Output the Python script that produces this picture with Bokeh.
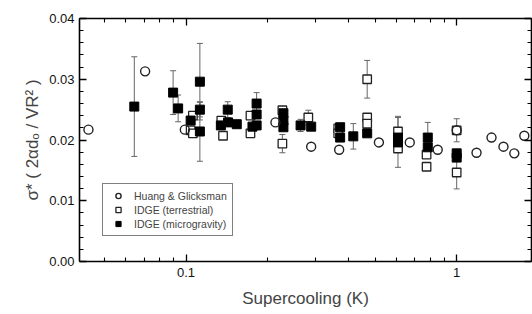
from bokeh.plotting import figure
from bokeh.layouts import row
from bokeh.models import (ColumnDataSource, Whisker, FixedTicker, LogAxis, LinearAxis, Spacer,
                          CustomJSTickFormatter, PrintfTickFormatter, Legend, LegendItem, Range1d)
from bokeh.embed import file_html
from bokeh.resources import INLINE

# ---- data ----
hg_x = [0.0436, 0.0706, 0.099, 0.214, 0.290, 0.368, 0.516, 0.671, 0.851, 1.0, 1.184, 1.345, 1.489, 1.633, 1.778]
hg_y = [0.0217, 0.0313, 0.0217, 0.0229, 0.0189, 0.0184, 0.0196, 0.0196, 0.0184, 0.0216, 0.0179, 0.0204, 0.0189, 0.0178, 0.0207]

terr_x = [0.104, 0.106, 0.106, 0.137, 0.135, 0.173, 0.173, 0.227, 0.227, 0.283, 0.365, 0.365,
          0.467, 0.467, 0.467, 0.607, 0.607, 0.774, 0.774, 1.0, 1.0]
terr_y = [0.0216, 0.0211, 0.0240, 0.0207, 0.0232, 0.0211, 0.0240, 0.0194, 0.0249, 0.0237, 0.0219, 0.0211,
          0.0300, 0.0237, 0.0227, 0.0214, 0.0186, 0.0176, 0.0156, 0.0216, 0.01465]
terr_err = [0, 0, 0, 0, 0, 0, 0, 0.0015, 0, 0.0012, 0, 0,
            0.0031, 0, 0, 0.0025, 0, 0, 0, 0.0019, 0.0027]

micro_x = [0.0644, 0.0896, 0.0935, 0.104, 0.1125, 0.1125, 0.1125, 0.1345, 0.1426, 0.143, 0.154,
           0.1823, 0.1823, 0.1823, 0.176, 0.229, 0.229, 0.229, 0.265, 0.290, 0.371, 0.371, 0.415,
           0.467, 0.607, 0.607, 0.782, 0.782, 1.0, 1.0]
micro_y = [0.0255, 0.0278, 0.0252, 0.0232, 0.0296, 0.0250, 0.0214, 0.0224, 0.0250, 0.0229, 0.0226,
           0.0260, 0.0242, 0.0224, 0.0222, 0.0232, 0.0221, 0.0244, 0.0224, 0.0222, 0.0221, 0.0204, 0.0206,
           0.0211, 0.0204, 0.0196, 0.0204, 0.0188, 0.0178, 0.0171]
micro_err = [0.0082, 0.0036, 0.0022, 0, 0.0063, 0.0012, 0.0049, 0, 0.0013, 0, 0,
             0.0018, 0, 0, 0, 0, 0, 0, 0.0010, 0, 0, 0, 0.0021,
             0, 0, 0.0041, 0.0025, 0, 0, 0]

x_major = [0.1, 1.0]
x_minor = [0.05, 0.06, 0.07, 0.08, 0.09, 0.2, 0.3, 0.4, 0.5, 0.6, 0.7, 0.8, 0.9]
y_major = [0.0, 0.01, 0.02, 0.03, 0.04]
y_minor = [i * 0.002 for i in range(21)]
y_title = "σ* ( 2αdₒ / VR² )"
x_title = "Supercooling (K)"

FONT = "Liberation Sans"

p = figure(width=520, height=310, x_axis_type="log",
           x_range=Range1d(0.0404, 1.89), y_range=Range1d(0.0, 0.04),
           output_backend="svg", toolbar_location=None,
           min_border_left=67, min_border_right=1, min_border_top=18, min_border_bottom=49)
p.grid.visible = False
p.outline_line_color = None
p.background_fill_color = "white"
p.border_fill_color = "white"

xt = FixedTicker(ticks=x_major, minor_ticks=x_minor)
yt = FixedTicker(ticks=y_major, minor_ticks=y_minor)

def style(ax, labels=True):
    ax.axis_line_color = "black"
    ax.axis_line_width = 1.6
    ax.major_tick_in = 7
    ax.major_tick_out = 0
    ax.minor_tick_in = 4
    ax.minor_tick_out = 0
    ax.major_tick_line_width = 1.3
    ax.minor_tick_line_width = 1.1
    ax.major_tick_line_color = "black"
    ax.minor_tick_line_color = "black"
    if labels:
        ax.major_label_text_font = FONT
        ax.major_label_text_font_size = "13px"
        ax.major_label_text_color = "#111111"
    else:
        ax.major_label_text_font_size = "1px"
        ax.major_label_text_color = None
        ax.major_label_standoff = 0

xa = p.xaxis[0]
xa.ticker = xt
xa.formatter = CustomJSTickFormatter(code="return tick.toString();")
style(xa)
xa.major_label_standoff = 6
xa.axis_label = x_title
xa.axis_label_text_font = FONT
xa.axis_label_text_font_style = "normal"
xa.axis_label_text_font_size = "17px"
xa.axis_label_standoff = 9

ya = p.yaxis[0]
ya.ticker = yt
ya.formatter = PrintfTickFormatter(format="%.2f")
style(ya)
ya.major_label_standoff = 5
ya.axis_label = y_title
ya.axis_label_text_font = FONT
ya.axis_label_text_font_style = "normal"
ya.axis_label_text_font_size = "17px"
ya.axis_label_standoff = 4

top = LogAxis(ticker=xt, formatter=CustomJSTickFormatter(code="return tick.toString();"))
style(top, labels=False)
p.add_layout(top, "above")
right = LinearAxis(ticker=yt, formatter=PrintfTickFormatter(format="%.2f"))
style(right, labels=False)
p.add_layout(right, "right")

# error bars
def err_source(xs, ys, es):
    sel = [(x, y, e) for x, y, e in zip(xs, ys, es) if e > 0]
    return ColumnDataSource(dict(x=[s[0] for s in sel],
                                 lo=[s[1] - s[2] for s in sel],
                                 hi=[s[1] + s[2] for s in sel]))

for xs, ys, es in [(terr_x, terr_y, terr_err), (micro_x, micro_y, micro_err)]:
    w = Whisker(source=err_source(xs, ys, es), base="x", lower="lo", upper="hi",
                line_color="#666666", line_width=1)
    w.upper_head.size = 6
    w.lower_head.size = 6
    w.upper_head.line_color = "#666666"
    w.lower_head.line_color = "#666666"
    p.add_layout(w)

r_terr = p.scatter(terr_x, terr_y, marker="square", size=8.5, fill_color="white",
                   line_color="#222222", line_width=1.3)
r_micro = p.scatter(micro_x, micro_y, marker="square", size=9, fill_color="black",
                    line_color="black", line_width=1)
r_hg = p.scatter(hg_x, hg_y, marker="circle", size=9, fill_color=None,
                 line_color="#222222", line_width=1.4)

legend = Legend(items=[LegendItem(label="Huang & Glicksman", renderers=[r_hg]),
                       LegendItem(label="IDGE (terrestrial)", renderers=[r_terr]),
                       LegendItem(label="IDGE (microgravity)", renderers=[r_micro])],
                location=(23, 25), label_text_font=FONT, label_text_font_size="10.5px",
                label_height=13, glyph_height=13, glyph_width=20, spacing=1, padding=5,
                label_standoff=6, margin=0, border_line_color="black", border_line_width=1,
                background_fill_color="white", background_fill_alpha=1)
p.add_layout(legend, "center")

layout = row(Spacer(width=12, height=310), p, spacing=0)
open("out.html", "w").write(file_html(layout, INLINE))
